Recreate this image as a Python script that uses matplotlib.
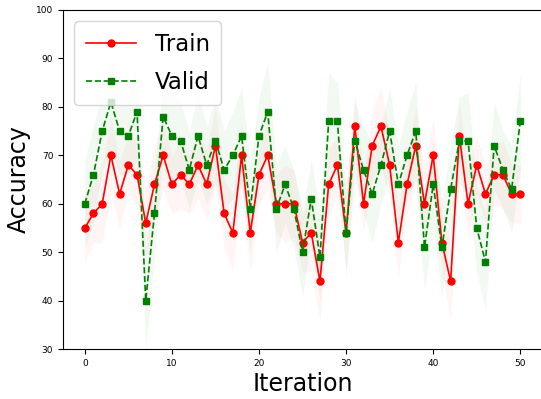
import matplotlib
matplotlib.use('Agg')
import matplotlib.pyplot as plt
import numpy as np

iterations = np.arange(51)

train_acc = [55, 58, 60, 70, 62, 68, 66, 56, 64, 70,
             64, 66, 64, 68, 64, 72, 58, 54, 70, 54,
             66, 70, 60, 60, 60, 52, 54, 44, 64, 68,
             54, 76, 60, 72, 76, 68, 52, 64, 72, 60,
             70, 52, 44, 74, 60, 68, 62, 66, 66, 62,
             62]
valid_acc = [60, 66, 75, 81, 75, 74, 79, 40, 58, 78,
             74, 73, 67, 74, 68, 73, 67, 70, 74, 59,
             74, 79, 59, 64, 59, 50, 61, 49, 77, 77,
             54, 73, 67, 62, 68, 75, 64, 70, 75, 51,
             64, 51, 63, 73, 73, 55, 48, 72, 67, 63,
             77]

# rough spread of the shaded bands
train_std = [7, 6, 8, 8, 7, 6, 7, 7, 8, 7,
             6, 7, 6, 7, 7, 8, 7, 8, 7, 8,
             6, 7, 6, 8, 7, 6, 8, 8, 7, 6,
             8, 7, 6, 7, 8, 7, 7, 6, 8, 7,
             8, 6, 8, 7, 7, 6, 6, 6, 7, 6,
             6]
valid_std = [9, 10, 8, 10, 9, 8, 10, 10, 9, 8,
             9, 8, 8, 9, 8, 9, 8, 9, 10, 9,
             8, 10, 9, 8, 8, 9, 8, 9, 10, 8,
             9, 8, 9, 10, 8, 9, 8, 9, 10, 9,
             9, 10, 9, 9, 10, 9, 10, 9, 8, 9,
             10]

tr = np.array(train_acc, dtype=float)
va = np.array(valid_acc, dtype=float)
tr_s = np.array(train_std, dtype=float)
va_s = np.array(valid_std, dtype=float)

fig, ax = plt.subplots(figsize=(5.41, 3.99), dpi=100)
# axes runs a little past the right edge, like the cropped original
fig.subplots_adjust(left=63/541, right=1.002, top=0.975, bottom=0.125)

ax.fill_between(iterations, tr - tr_s, tr + tr_s, color='r', alpha=0.04, linewidth=0)
ax.fill_between(iterations, va - va_s, va + va_s, color='g', alpha=0.05, linewidth=0)
ax.plot(iterations, tr, 'o-', color='r', markersize=5, linewidth=1.2, label='Train')
ax.plot(iterations, va, 's--', color='g', markersize=5, linewidth=1.2, label='Valid')

ax.set_ylim(30, 100)
ax.set_xlim(-2.5, 52.5)
ax.tick_params(labelsize=6.5)
ax.set_xlabel('Iteration', fontsize=17, labelpad=3)
ax.set_ylabel('Accuracy', fontsize=17)
ax.legend(loc='upper left', fontsize=16.5, labelspacing=0.65, handlelength=2.2,
          borderpad=0.5)

fig.savefig('out.png', dpi=100)
